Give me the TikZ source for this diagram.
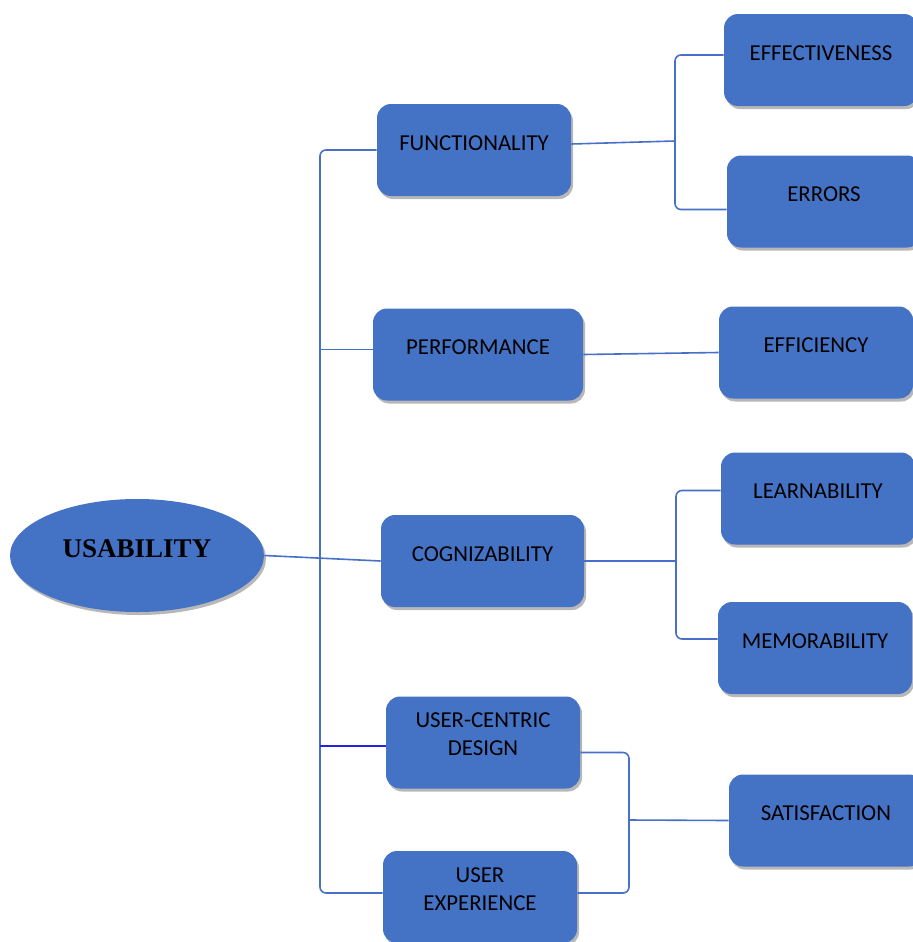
\documentclass[tikz,border=0pt]{standalone}
\usepackage{fontspec}
\setmainfont{Carlito}
\newfontfamily\titlefont{Liberation Serif}
\usetikzlibrary{shapes.geometric,shadows}
\definecolor{boxblue}{RGB}{68,114,196}
\definecolor{linkblue}{RGB}{72,112,200}
\definecolor{darkblue}{RGB}{35,35,225}

\begin{document}
\begin{tikzpicture}[x=0.5pt,y=-0.5pt,
  box/.style={rectangle, rounded corners=7pt, fill=boxblue, minimum width=97pt,
    inner xsep=0pt, inner ysep=0pt, text height=23pt, text depth=23pt,
    align=center, font=\fontsize{11.4}{14}\selectfont,
    drop shadow={shadow xshift=1pt, shadow yshift=-1.5pt, fill=black!55, opacity=0.5}},
  twoline/.style={text height=29.7pt, text depth=16.3pt},
  link/.style={draw=linkblue, line width=0.8pt, rounded corners=3pt},
  darklink/.style={draw=darkblue, line width=0.8pt}]
  \clip (0,0) rectangle (913,942);
  \fill[white] (0,0) rectangle (913,942);
  % centre
  \node[ellipse, fill=boxblue, minimum width=127pt, minimum height=56.5pt, inner sep=0pt,
    text height=10pt, text depth=8.5pt, font=\titlefont\bfseries\fontsize{13.5}{16}\selectfont,
    drop shadow={shadow xshift=1pt, shadow yshift=-1.5pt, fill=black!55, opacity=0.5}]
    (usab) at (137,555.5) {USABILITY};
  % middle column
  \node[box] (func) at (474,150) {FUNCTIONALITY};
  \node[box, minimum width=105pt] (perf) at (478,354.5) {PERFORMANCE};
  \node[box, minimum width=101.5pt] (cogn) at (482.5,561) {COGNIZABILITY};
  \node[box, twoline] (ucd) at (483,742.5) {USER-CENTRIC\\DESIGN};
  \node[box, twoline] (ux) at (480,897) {USER\\EXPERIENCE};
  % right column
  \node[box] (effe) at (821,60) {EFFECTIVENESS};
  \node[box] (err) at (824,201.5) {ERRORS};
  \node[box] (effi) at (816,352.5) {EFFICIENCY};
  \node[box] (lear) at (818,498.5) {LEARNABILITY};
  \node[box] (memo) at (815,648) {MEMORABILITY};
  \node[box] (sati) at (826,820.5) {SATISFACTION};
  % connectors
  \coordinate (trunk) at (320,555);
  \coordinate (b1) at (675,141);
  \coordinate (b2) at (676,561);
  \coordinate (b3) at (629,820);
  \draw[link] (func.west) -| (trunk) |- ([yshift=2pt]ux.west);
  \draw[link] (usab.east) -- (cogn.west);
  \draw[link] ([yshift=2.5pt]perf.west) -- ([yshift=2.5pt]perf.west -| trunk);
  \draw[darklink] ([yshift=-1.75pt]ucd.west) -- ([yshift=-1.75pt]ucd.west -| trunk);
  \draw[link] ([yshift=3pt]func.east) -- (b1);
  \draw[link] ([yshift=2.5pt]effe.west) -| (b1) |- ([yshift=-4pt]err.west);
  \draw[link] (perf.east) -- (effi.west);
  \draw[link] (cogn.east) -- (b2);
  \draw[link] ([yshift=4pt]lear.west) -| (b2) |- ([yshift=4.5pt]memo.west);
  \draw[link] ([yshift=-5pt]ucd.east) -| (b3) |- ([yshift=2pt]ux.east);
  \draw[link] (b3) -- (sati.west);
\end{tikzpicture}
\end{document}
